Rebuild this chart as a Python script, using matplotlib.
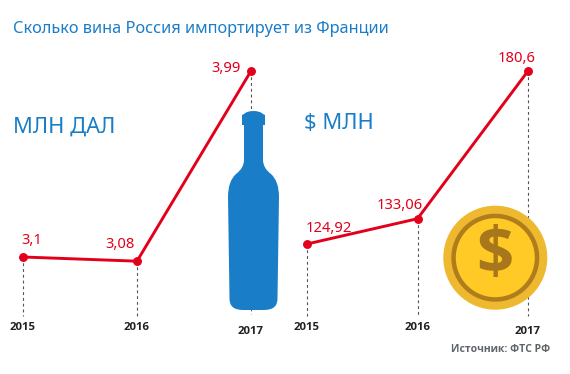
import matplotlib
matplotlib.use("Agg")
import matplotlib.pyplot as plt
from matplotlib.patches import Circle, PathPatch
from matplotlib.path import Path

plt.rcParams['font.family'] = ['Noto Sans', 'DejaVu Sans']

years = [2015, 2016, 2017]
volume = [3.1, 3.08, 3.99]
volume_labels = ['3,1', '3,08', '3,99']
money = [124.92, 133.06, 180.6]
money_labels = ['124,92', '133,06', '180,6']
title = 'Сколько вина Россия импортирует из Франции'
source = 'Источник: ФТС РФ'

W, H = 570, 374
BLUE = '#1a7dc8'
RED = '#e3001b'
DARK = '#222222'

fig = plt.figure(figsize=(W / 100, H / 100), dpi=100, facecolor='white')


def panel(x0, x1, v_a, p_a, v_b, p_b):
    """Full-height axes: years span x0..x1 px; value v_a sits at pixel p_a, v_b at p_b."""
    slope = (v_b - v_a) / (p_b - p_a)
    conv = lambda p: v_a + (p - p_a) * slope
    ax = fig.add_axes([x0 / W, 0, (x1 - x0) / W, 1], zorder=1)
    ax.set_xlim(2015, 2017)
    ax.set_ylim(conv(H), conv(0))
    ax.axis('off')
    return ax, conv


def draw(ax, conv, vals, labels, bottoms, label_px, year_px, label_off):
    for yr, v, b in zip(years, vals, bottoms):
        ax.plot([yr, yr], [v, conv(b)], color='#555555', lw=0.8,
                dashes=(2.6, 2.6), zorder=1, clip_on=False)
    ax.plot(years, vals, color=RED, lw=2.1, zorder=3, clip_on=False,
            solid_capstyle='round', solid_joinstyle='round')
    ax.plot(years, vals, 'o', color=RED, ms=5.4, zorder=4, clip_on=False)
    for yr, lab, lp, yp, off in zip(years, labels, label_px, year_px, label_off):
        ax.annotate(lab, (yr, conv(lp)), xytext=(off, 0), textcoords='offset pixels',
                    color=RED, fontsize=10.6, ha='center', va='center')
        ax.text(yr, conv(yp), str(yr), color=DARK, fontsize=8.2, fontweight='bold',
                family='Open Sans', ha='center', va='center')


axL, convL = panel(23, 251, volume[0], 257, volume[2], 71)
draw(axL, convL, volume, volume_labels, [316, 316, 314], [240, 245, 68],
     [327, 327, 331], [9, -17, -25])

axR, convR = panel(307, 528, money[0], 244, money[2], 71)
draw(axR, convR, money, money_labels, [316, 316, 316], [228, 205, 58],
     [327, 327, 331], [22, -18, -11])

# overlay in pixel coordinates: bottle, coin, headings
top = fig.add_axes([0, 0, 1, 1], zorder=2)
top.set_xlim(0, W)
top.set_ylim(H, 0)
top.axis('off')

M, L, C = Path.MOVETO, Path.LINETO, Path.CURVE3
half = [(253.5, 111), (247, 111), (244, 114), (242, 115), (242, 125), (244, 125), (244, 160),
        (244, 168), (236, 174), (228, 181), (228, 197), (229.5, 298),
        (229, 310), (243, 310), (253.5, 310)]
codes_half = [M, C, C, L, L, L, L, C, C, C, C, L, C, C, L]
mirror = [(507 - x, y) for x, y in half[::-1]]
verts = half + mirror[1:]
codes = codes_half + [C if c == C else L for c in codes_half[:0:-1]]
top.add_patch(PathPatch(Path(verts, codes), fc=BLUE, ec='none'))

cx, cy = 495.3, 257.7
top.add_patch(Circle((cx, cy), 52, fc='#eeb82f', ec='none'))
top.add_patch(Circle((cx, cy), 44, fc='#b07d1d', ec='none'))
top.add_patch(Circle((cx, cy), 39.5, fc='#ffc926', ec='none'))
top.text(cx, cy - 1, '$', color='#a8771c', fontsize=47, fontweight='bold',
         family='Open Sans', ha='center', va='center')

top.text(13, 28.5, title, color=BLUE, fontsize=11.75, ha='left', va='center')
top.text(13, 127, 'МЛН ДАЛ', color=BLUE, fontsize=15.8, ha='left', va='center')
top.text(304, 123, '$ МЛН', color=BLUE, fontsize=15.8, ha='left', va='center')
top.text(550, 350, source, color='#5f6468', fontsize=7.5, fontweight='bold',
         family='Open Sans', ha='right', va='center')

fig.savefig('out.png', dpi=100, facecolor='white')
